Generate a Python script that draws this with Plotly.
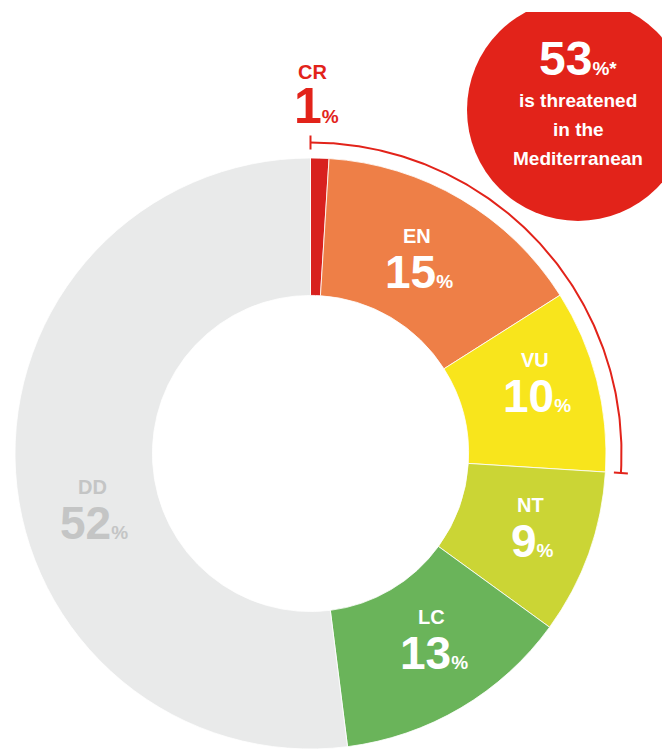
import numpy as np
import plotly.graph_objects as go

# ---------------- data ----------------
categories = ["CR", "EN", "VU", "NT", "LC", "DD"]
values = [1, 15, 10, 9, 13, 52]
threatened = ["CR", "EN", "VU"]
headline_value = "53"
headline_lines = ["is threatened", "in the", "Mediterranean"]

# ---------------- styles ----------------
slice_colors = ["#D8211E", "#EE7F47", "#F8E51C", "#CBD535", "#6AB45A", "#E9EAEA"]
label_colors = ["#E2231A", "white", "white", "white", "white", "#C4C5C5"]
RED = "#E2231A"
FONT = "Liberation Sans, Arial, Helvetica, sans-serif"

WIN_W, WIN_H = 670, 749
OFF = 8                      # default page body margin
W, H = WIN_W - OFF, WIN_H - OFF
CX, CY = 310.5, 453.5        # pie centre in window px
R = 295.5                    # outer radius in px
HOLE = 0.535
ARC_R = 311                  # threatened bracket radius
TICK = 7
# label nudges (px) relative to slice centroid, layout only
nudge = {"EN": (-9, -3), "VU": (5, -18), "NT": (7, -6), "LC": (6, -13), "DD": (8, 38)}


def px_x(x):
    return (x - OFF) / W


def px_y(y):
    return 1 - (y - OFF) / H


fig = go.Figure()

fig.add_trace(go.Pie(
    labels=categories, values=values, sort=False, direction="clockwise", rotation=0,
    hole=HOLE, marker=dict(colors=slice_colors, line=dict(color="white", width=0.8)),
    textinfo="none", hoverinfo="label+percent", showlegend=False,
    domain=dict(x=[px_x(CX - R), px_x(CX + R)], y=[max(0, px_y(CY + R)), px_y(CY - R)]),
))

total = sum(values)
cum = np.cumsum([0] + values)
annotations = []
r_mid = R * (1 + HOLE) / 2
for i, (cat, v) in enumerate(zip(categories, values)):
    col = label_colors[i]
    num = f"<b>{v}<span style='font-size:19px'>%</span></b>"
    if cat == "CR":
        x0, yc, yn = CX + 2, 72, 106
        annotations.append(dict(x=x0, y=yc, text=f"<b>{cat}</b>", font=dict(size=20, color=col, family=FONT)))
        annotations.append(dict(x=x0 + 4, y=yn, text=num, font=dict(size=50, color=col, family=FONT)))
        continue
    th = np.deg2rad((cum[i] + v / 2) / total * 360)
    dx, dy = nudge[cat]
    x = CX + r_mid * np.sin(th) + dx
    y = CY - r_mid * np.cos(th) + dy
    annotations.append(dict(x=x, y=y - 19, text=f"<b>{cat}</b>", font=dict(size=20, color=col, family=FONT)))
    annotations.append(dict(x=x + 2, y=y + 17, text=num, font=dict(size=46, color=col, family=FONT)))

# threatened bracket arc
thr_frac = sum(v for c, v in zip(categories, values) if c in threatened) / total
t = np.linspace(0, thr_frac * 2 * np.pi, 200)
ax_x = list(CX + ARC_R * np.sin(t))
ax_y = list(CY - ARC_R * np.cos(t))
t0, t1 = 0.0, thr_frac * 2 * np.pi
ticks_x = [CX + (ARC_R - TICK) * np.sin(t0), CX + (ARC_R + TICK) * np.sin(t0), None,
           CX + (ARC_R - TICK) * np.sin(t1), CX + (ARC_R + TICK) * np.sin(t1)]
ticks_y = [CY - (ARC_R - TICK) * np.cos(t0), CY - (ARC_R + TICK) * np.cos(t0), None,
           CY - (ARC_R - TICK) * np.cos(t1), CY - (ARC_R + TICK) * np.cos(t1)]
fig.add_trace(go.Scatter(x=ax_x + [None] + ticks_x, y=ax_y + [None] + ticks_y, mode="lines",
                         line=dict(color=RED, width=2), hoverinfo="skip", showlegend=False))

# headline bubble
shapes = [
    dict(type="circle", xref="x", yref="y", x0=467, x1=689, y0=-1, y1=221,
         fillcolor=RED, line=dict(width=0), layer="above"),
    dict(type="rect", xref="x", yref="y", x0=400, x1=700, y0=-20, y1=12,
         fillcolor="white", line=dict(width=0), layer="above"),
]
annotations.append(dict(x=578, y=58, text=f"<b>{headline_value}<span style='font-size:19px'>%*</span></b>",
                        font=dict(size=48, color="white", family=FONT)))
for k, line in enumerate(headline_lines):
    annotations.append(dict(x=578, y=100 + 29 * k, text=f"<b>{line}</b>",
                            font=dict(size=19, color="white", family=FONT)))

for a in annotations:
    a.update(xref="x", yref="y", showarrow=False, xanchor="center", yanchor="middle")

fig.update_layout(
    width=W, height=H, margin=dict(l=0, r=0, t=0, b=0),
    paper_bgcolor="white", plot_bgcolor="rgba(0,0,0,0)",
    xaxis=dict(range=[OFF, WIN_W], visible=False, fixedrange=True),
    yaxis=dict(range=[WIN_H, OFF], visible=False, fixedrange=True),
    shapes=shapes, annotations=annotations,
)

fig.write_html("out.html")
